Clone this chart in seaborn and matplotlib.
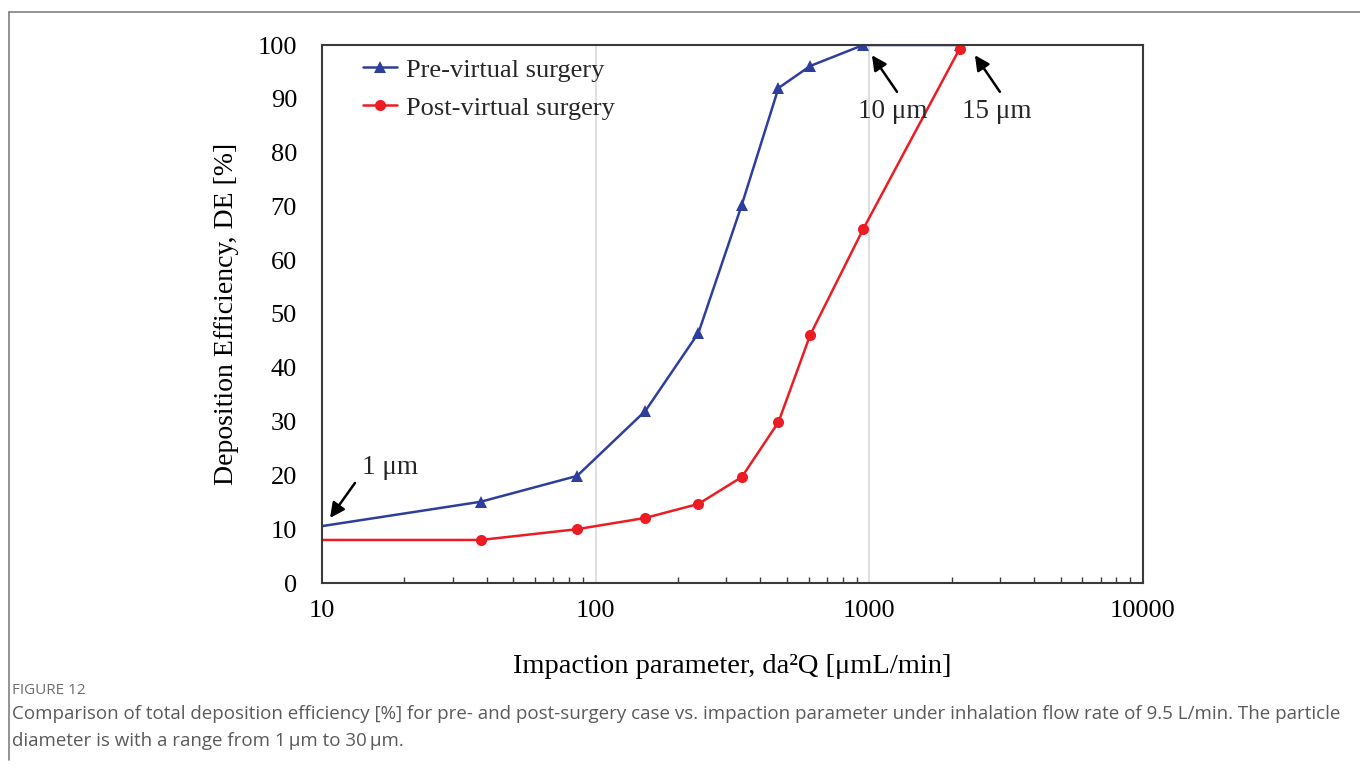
import numpy as np
import pandas as pd
import matplotlib
matplotlib.use("Agg")
import matplotlib.pyplot as plt
from matplotlib.lines import Line2D
import seaborn as sns

# Data (impaction parameter da^2 Q for d = 1,2,3,4,5,6,7,8,10,15 um at Q = 9.5 L/min)
impaction = [9.5, 38.0, 85.5, 152.0, 237.5, 342.0, 465.5, 608.0, 950.0, 2137.5]
pre_de = [10.4, 15.1, 19.9, 32.0, 46.5, 70.3, 92.0, 96.1, 100.0, 100.0]
post_de = [8.0, 8.0, 10.0, 12.1, 14.7, 19.7, 29.9, 46.1, 65.8, 99.3]
series_names = ["Pre-virtual surgery", "Post-virtual surgery"]
x_ticks = [10, 100, 1000, 10000]
y_ticks = [0, 10, 20, 30, 40, 50, 60, 70, 80, 90, 100]

df = pd.DataFrame({
    "x": impaction * 2,
    "y": pre_de + post_de,
    "case": [series_names[0]] * len(impaction) + [series_names[1]] * len(impaction),
})

sns.set_theme(style="white")
plt.rcParams["font.family"] = ["Liberation Serif", "DejaVu Serif"]
plt.rcParams["mathtext.fontset"] = "stix"

BLUE = "#2E3E9C"
RED = "#EC1C24"

fig = plt.figure(figsize=(13.6, 7.82), dpi=100)
ax = fig.add_axes([322 / 1360, 1 - 583 / 782, (1143 - 322) / 1360, (583 - 45) / 782])

sns.lineplot(data=df, x="x", y="y", hue="case", style="case",
             palette={series_names[0]: BLUE, series_names[1]: RED},
             markers={series_names[0]: "^", series_names[1]: "o"},
             dashes=False, markersize=8, markeredgewidth=0, linewidth=1.8,
             ax=ax, legend=False, sort=False)

ax.set_xscale("log")
ax.set_xlim(10, 10000)
ax.set_ylim(0, 100)
ax.set_xticks(x_ticks)
ax.set_xticklabels([str(t) for t in x_ticks])
ax.set_yticks(y_ticks)
ax.set_yticklabels([str(t) for t in y_ticks])

ax.grid(False)
ax.xaxis.grid(True, which="major", color="#d9d9d9", linewidth=1.2)
ax.set_axisbelow(True)

for s in ax.spines.values():
    s.set_color("#3a3a3a")
    s.set_linewidth(1.5)

ax.tick_params(axis="both", which="both", direction="in", colors="#3a3a3a")
ax.tick_params(axis="x", which="major", length=5, width=1, pad=12, labelsize=19, labelcolor="black")
ax.tick_params(axis="x", which="minor", length=4, width=1, bottom=True)
ax.tick_params(axis="y", which="major", length=5, width=1, pad=18, labelsize=19, labelcolor="black")

ax.set_xlabel("Impaction parameter, da²Q [μmL/min]", fontsize=20.5, labelpad=23, color="black")
ax.set_ylabel("Deposition Efficiency, DE [%]", fontsize=20, labelpad=13, color="black")

# legend
handles = [
    Line2D([], [], color=BLUE, marker="^", markersize=8, markeredgewidth=0, linewidth=1.8),
    Line2D([], [], color=RED, marker="o", markersize=8, markeredgewidth=0, linewidth=1.8),
]
ax.legend(handles, series_names, loc="upper left", bbox_to_anchor=(0.027, 1.01),
          frameon=False, fontsize=19, handlelength=1.3, handletextpad=0.35,
          labelspacing=0.55, borderaxespad=0.3)

# annotations
arrow = dict(arrowstyle="-|>", color="black", lw=1.8, mutation_scale=22, shrinkA=0, shrinkB=0)
ax.annotate("", xy=(10.7, 12.1), xytext=(13.2, 18.6), arrowprops=arrow)
ax.text(14.0, 21.4, "1 μm", fontsize=19.5, ha="left", va="center")
ax.annotate("", xy=(1022, 98.1), xytext=(1262, 91.3), arrowprops=arrow)
ax.text(1219, 87.6, "10 μm", fontsize=19.5, ha="center", va="center")
ax.annotate("", xy=(2431, 98.1), xytext=(2999, 91.3), arrowprops=arrow)
ax.text(2924, 87.6, "15 μm", fontsize=19.5, ha="center", va="center")

# outer frame lines
fig.add_artist(Line2D([9 / 1360, 9 / 1360], [1 - 12 / 782, 1 - 760 / 782],
                      transform=fig.transFigure, color="#808080", lw=1.2))
fig.add_artist(Line2D([9 / 1360, 1.0], [1 - 12 / 782, 1 - 12 / 782],
                      transform=fig.transFigure, color="#808080", lw=1.2))

# caption
cap_font = ["Open Sans", "DejaVu Sans"]
fig.text(12 / 1360, 1 - 690 / 782, "FIGURE 12", fontsize=11, color="#6e6e6e",
         family=cap_font, va="center", ha="left")
fig.text(12 / 1360, 1 - 714 / 782,
         "Comparison of total deposition efficiency [%] for pre- and post-surgery case vs. impaction parameter under inhalation flow rate of 9.5 L/min. The particle",
         fontsize=13.5, color="#5a5a5a", family=cap_font, va="center", ha="left")
fig.text(12 / 1360, 1 - 741 / 782,
         "diameter is with a range from 1\u2009μm to 30\u2009μm.",
         fontsize=13.5, color="#5a5a5a", family=cap_font, va="center", ha="left")

fig.savefig("out.png", dpi=100, facecolor="white")
